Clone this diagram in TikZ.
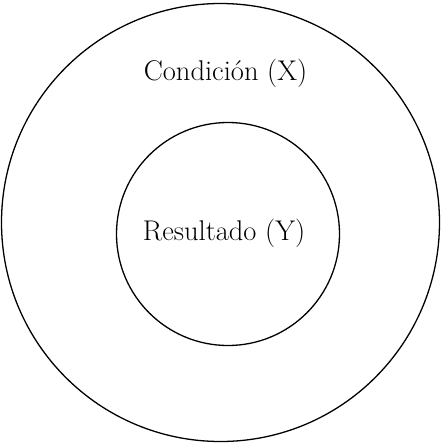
\documentclass[tikz,border=0pt]{standalone}
\begin{document}
\begin{tikzpicture}[x=1pt,y=-1pt,
  ring/.style={draw=black,line width=1.3pt},
  lbl/.style={font=\fontsize{28.5}{32}\selectfont,inner sep=0pt}]
\useasboundingbox (0,0) rectangle (441,445);
\node[ring,circle,minimum size=438pt,inner sep=0pt] (outer) at (220.5,222.5) {};
\node[ring,circle,minimum size=223pt,inner sep=0pt] (inner) at (228,234) {};
\node[lbl] (cond) at (225.5,73) {Condición (X)};
\node[lbl] (res) at (224,233) {Resultado (Y)};
\end{tikzpicture}
\end{document}
